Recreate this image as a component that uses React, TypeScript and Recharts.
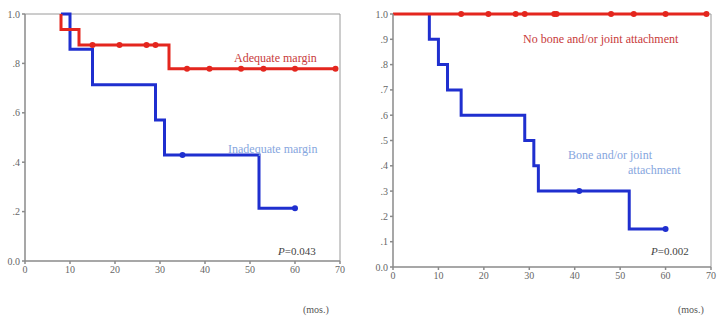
import React from 'react'
import {
  ComposedChart,
  Line,
  Scatter,
  XAxis,
  YAxis,
  ReferenceLine,
} from 'recharts'

// step points: [months, survival after the event]
const leftRedT = [8, 8, 12, 32, 69]
const leftRedS = [1.0, 0.9375, 0.875, 0.778, 0.778]
const leftBlueT = [8, 10, 15, 29, 31, 52, 60]
const leftBlueS = [1.0, 0.857, 0.714, 0.571, 0.429, 0.214, 0.214]

const leftRedCensT = [15, 21, 27, 29, 36, 41, 48, 53, 60, 69]
const leftRedCensS = [0.875, 0.875, 0.875, 0.875, 0.778, 0.778, 0.778, 0.778, 0.778, 0.778]
const leftBlueCensT = [35, 60]
const leftBlueCensS = [0.429, 0.214]

const rightRedT = [0, 69]
const rightRedS = [1.0, 1.0]
const rightBlueT = [8, 8, 10, 12, 15, 29, 31, 32, 52, 60]
const rightBlueS = [1.0, 0.9, 0.8, 0.7, 0.6, 0.5, 0.4, 0.3, 0.15, 0.15]

const rightRedCensT = [15, 21, 27, 29, 35.5, 36, 48, 53, 60, 69]
const rightRedCensS = [1, 1, 1, 1, 1, 1, 1, 1, 1, 1]
const rightBlueCensT = [41, 60]
const rightBlueCensS = [0.3, 0.15]

const xTicks = [0, 10, 20, 30, 40, 50, 60, 70]
const leftYTicks = [0, 0.2, 0.4, 0.6, 0.8, 1.0]
const rightYTicks = [0, 0.1, 0.2, 0.3, 0.4, 0.5, 0.6, 0.7, 0.8, 0.9, 1.0]

const RED = '#e4261e'
const BLUE = '#1f2fcf'
const AXIS = '#8a8a8a'
const serif = '"Liberation Serif", "DejaVu Serif", serif'

const zip = (t: number[], s: number[]) => t.map((v, i) => ({ t: v, s: s[i] }))

const fmtY = (v: number) => (v === 0 ? '0.0' : v === 1 ? '1.0' : '.' + Math.round(v * 10))

const tickStyle = { fontSize: 10, fill: '#666', fontFamily: serif }

const Dot = (props: any) => {
  const { cx, cy, fill } = props
  return <circle cx={cx} cy={cy} r={3} fill={fill} />
}

interface KMProps {
  width: number
  yAxisWidth: number
  right: number
  bottom: number
  yTicks: number[]
  red: { t: number; s: number }[]
  blue: { t: number; s: number }[]
  redCens: { t: number; s: number }[]
  blueCens: { t: number; s: number }[]
}

function KMChart({ width, yAxisWidth, right, bottom, yTicks, red, blue, redCens, blueCens }: KMProps) {
  return (
    <ComposedChart width={width} height={320} margin={{ top: 14, right, left: 0, bottom }}>
      <XAxis
        dataKey="t"
        type="number"
        domain={[0, 70]}
        ticks={xTicks}
        tick={tickStyle}
        stroke={AXIS}
        strokeWidth={1.5}
        tickSize={3}
        height={20}
      />
      <YAxis
        dataKey="s"
        type="number"
        domain={[0, 1]}
        ticks={yTicks}
        tickFormatter={fmtY}
        tick={tickStyle}
        stroke={AXIS}
        strokeWidth={1.5}
        tickSize={3}
        width={yAxisWidth}
      />
      <ReferenceLine y={1} stroke="#9a9a9a" strokeWidth={1} />
      <ReferenceLine x={70} stroke="#9a9a9a" strokeWidth={1} />
      <Line data={blue} dataKey="s" type="stepAfter" stroke={BLUE} strokeWidth={3} dot={false} isAnimationActive={false} />
      <Line data={red} dataKey="s" type="stepAfter" stroke={RED} strokeWidth={3} dot={false} isAnimationActive={false} />
      <Scatter data={blueCens} dataKey="s" fill={BLUE} shape={<Dot />} isAnimationActive={false} />
      <Scatter data={redCens} dataKey="s" fill={RED} shape={<Dot />} isAnimationActive={false} />
    </ComposedChart>
  )
}

const label = (x: number, y: number, color: string, text: React.ReactNode, size = 12) => (
  <div
    style={{
      position: 'absolute',
      left: x,
      top: y,
      color,
      fontFamily: serif,
      fontSize: size,
      lineHeight: 1,
      whiteSpace: 'nowrap',
    }}
  >
    {text}
  </div>
)

export default function App() {
  return (
    <div style={{ position: 'absolute', left: 0, top: 0, width: 718, height: 320, background: '#fff' }}>
      <div style={{ position: 'absolute', left: 0, top: 0 }}>
        <KMChart
          width={358}
          yAxisWidth={25}
          right={18}
          bottom={39}
          yTicks={leftYTicks}
          red={zip(leftRedT, leftRedS)}
          blue={zip(leftBlueT, leftBlueS)}
          redCens={zip(leftRedCensT, leftRedCensS)}
          blueCens={zip(leftBlueCensT, leftBlueCensS)}
        />
      </div>
      <div style={{ position: 'absolute', left: 358, top: 0 }}>
        <KMChart
          width={360}
          yAxisWidth={35}
          right={7}
          bottom={33}
          yTicks={rightYTicks}
          red={zip(rightRedT, rightRedS)}
          blue={zip(rightBlueT, rightBlueS)}
          redCens={zip(rightRedCensT, rightRedCensS)}
          blueCens={zip(rightBlueCensT, rightBlueCensS)}
        />
      </div>
      {label(234, 52, '#c83a3a', 'Adequate margin')}
      {label(228, 143, '#86a6de', 'Inadequate margin')}
      {label(278, 246, '#444', <><i>P</i>=0.043</>, 11)}
      {label(303, 305, '#555', '(mos.)', 10)}
      {label(523, 33, '#c83a3a', 'No bone and/or joint attachment')}
      {label(568, 149, '#86a6de', 'Bone and/or joint')}
      {label(628, 164, '#86a6de', 'attachment')}
      {label(651, 246, '#444', <><i>P</i>=0.002</>, 11)}
      {label(678, 305, '#555', '(mos.)', 10)}
    </div>
  )
}
